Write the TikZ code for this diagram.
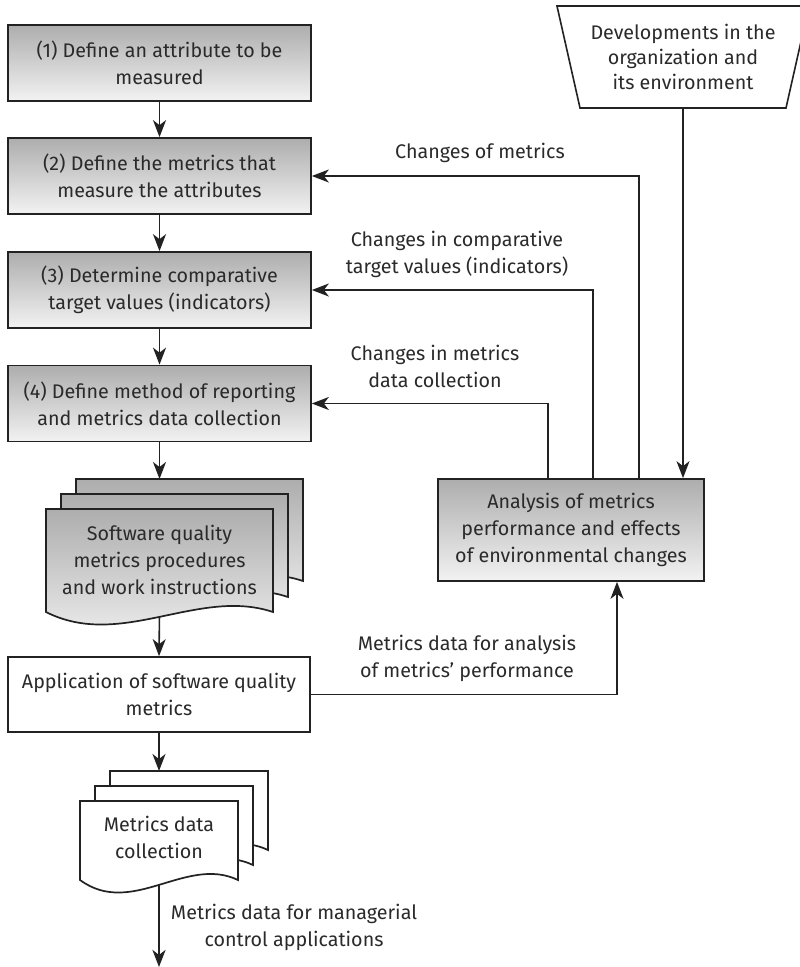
\documentclass[tikz,border=0pt]{standalone}
\usepackage{fontspec}
\setmainfont{Fira Sans}
\usetikzlibrary{arrows.meta,calc}
\definecolor{ink}{HTML}{222222}
\definecolor{txt}{HTML}{2A2A2A}
\begin{document}
\begin{tikzpicture}[x=1pt,y=-1pt,
  every node/.style={font=\fontsize{19.7}{27}\selectfont, text=txt},
  proc/.style={draw=ink, line width=1.7pt, top color=black!32, bottom color=black!5,
    align=center, minimum width=303pt, minimum height=76pt, inner sep=0pt},
  plainbox/.style={draw=ink, line width=1.7pt, fill=white, align=center, inner sep=0pt},
  sheetg/.style={draw=ink, line width=1.7pt, top color=black!32, bottom color=black!5},
  sheetw/.style={draw=ink, line width=1.7pt, fill=white},
  arr/.style={draw=ink, line width=1.6pt, -{Stealth[length=17pt,width=13pt,inset=5pt]}},
  lbl/.style={align=center}]
\useasboundingbox (0,0) rectangle (800,967);
\fill[white] (0,0) rectangle (800,967);

% process boxes
\node[proc] (b1) at (159.5,63) {(1) Define an attribute to be\\measured};
\node[proc] (b2) at (159.5,176) {(2) Define the metrics that\\measure the attributes};
\node[proc] (b3) at (159.5,290) {(3) Determine comparative\\target values (indicators)};
\node[proc] (b4) at (159.5,403.5) {(4) Define method of reporting\\and metrics data collection};
\node[plainbox, minimum width=302pt, minimum height=75pt] (app) at (159,694.5) {Application of software quality\\metrics};
\node[proc, minimum width=266pt, minimum height=102pt] (an) at (571,530) {Analysis of metrics\\performance and effects\\of environmental changes};

% trapezoid
\draw[draw=ink, line width=1.6pt, fill=white] (557,6) -- (809,6) -- (786,108) -- (580,108) -- cycle;
\node[align=center, font=\fontsize{19.7}{25}\selectfont] (dev) at (683,57) {Developments in the\\organization and\\its environment};
\coordinate (devb) at (683,108);

% helper coordinates
\coordinate (xa) at (548,0);
\coordinate (xb) at (593,0);
\coordinate (xc) at (639,0);
\coordinate (xd) at (617,0);
\coordinate (swtop) at (159.5,479);
\coordinate (swbot) at (159.5,614);
\coordinate (mdtop) at (159,771);
\coordinate (mdbot) at (159,884);
\coordinate (mdend) at (159,967);

% connectors (drawn before sheets so sheets cover their starts)
\draw[arr] (b1.south) -- (b2.north);
\draw[arr] (b2.south) -- (b3.north);
\draw[arr] (b3.south) -- (b4.north);
\draw[arr] (b4.south) -- (swtop);
\draw[arr] (swbot) -- (app.north);
\draw[arr] (app.south) -- (mdtop);
\draw[arr, line width=2.8pt] (mdbot) -- (mdend);
\draw[arr] (devb) -- (an.north -| devb);
\draw[arr] (an.north -| xa) |- (b4.east);
\draw[arr] (an.north -| xb) |- (b3.east);
\draw[arr] (an.north -| xc) |- (b2.east);
\draw[arr] (app.east) -| (an.south -| xd);

% software quality sheets
\draw[sheetg] (76,479) -- (303,479) -- (303,581) .. controls (228,556) and (151,619) .. (76,581) -- cycle;
\draw[sheetg] (61,494) -- (288,494) -- (288,597) .. controls (213,572) and (136,635) .. (61,597) -- cycle;
\draw[sheetg] (46,509) -- (273,509) -- (273,612) .. controls (198,587) and (121,650) .. (46,612) -- cycle;
\node[align=center] (sw) at (159.5,560) {Software quality\\metrics procedures\\and work instructions};

% metrics data collection sheets
\draw[sheetw] (110,771) -- (268,771) -- (268,850) .. controls (216,825) and (162,888) .. (110,850) -- cycle;
\draw[sheetw] (95,786) -- (253,786) -- (253,865) .. controls (201,840) and (147,903) .. (95,865) -- cycle;
\draw[sheetw] (80,801) -- (238,801) -- (238,880) .. controls (186,855) and (132,918) .. (80,880) -- cycle;
\node[align=center] (mdc) at (159,837) {Metrics data\\collection};

% labels
\node[lbl] (l1) at (480,153) {Changes of metrics};
\node[lbl] (l2) at (457,254) {Changes in comparative\\target values (indicators)};
\node[lbl] (l3) at (435,366) {Changes in metrics\\data collection};
\node[lbl] (l4) at (467,658) {Metrics data for analysis\\of metrics’ performance};
\node[lbl] (l5) at (294,927) {Metrics data for managerial\\control applications};
\end{tikzpicture}
\end{document}
